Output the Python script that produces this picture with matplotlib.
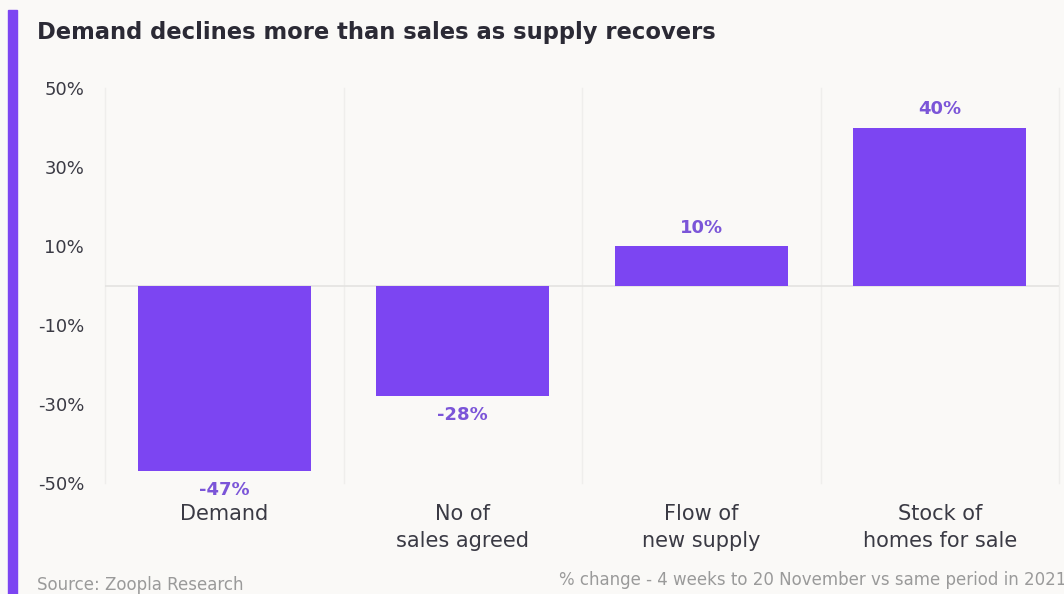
import matplotlib
matplotlib.use("Agg")
import matplotlib.pyplot as plt
from matplotlib.patches import Rectangle

categories = ["Demand", "No of\nsales agreed", "Flow of\nnew supply", "Stock of\nhomes for sale"]
values = [-47, -28, 10, 40]
yticks = [-50, -30, -10, 10, 30, 50]
ytick_labels = ["-50%", "-30%", "-10%", "10%", "30%", "50%"]
title = "Demand declines more than sales as supply recovers"
source = "Source: Zoopla Research"
note = "% change - 4 weeks to 20 November vs same period in 2021"

plt.rcParams['font.family'] = ['DejaVu Sans']

BG = "#faf9f7"
BAR = "#7c45f2"
LABEL = "#7b55d8"
TEXT = "#3a3a44"
GREY = "#9a9a9a"

fig = plt.figure(figsize=(10.64, 5.94), dpi=100, facecolor=BG)
W, H = 1064, 594
ax = fig.add_axes([105 / W, 1 - 483 / H, (1059 - 105) / W, (483 - 88) / H])
ax.set_facecolor(BG)

# left accent bar
fig.patches.append(Rectangle((8 / W, 0), 9 / W, 1 - 10 / H, transform=fig.transFigure,
                             color=BAR, zorder=0))

x = list(range(len(categories)))
ax.bar(x, values, width=0.725, color=BAR, zorder=3)
ax.set_xlim(-0.5, len(categories) - 0.5)
ax.set_ylim(-50, 50)

# separators
for b in range(len(categories) + 1):
    ax.axvline(b - 0.5, ymin=0, ymax=1, color="#efeeec", lw=1, zorder=1, clip_on=False)
ax.axhline(0, color="#e4e3e1", lw=1.2, zorder=2)

for xi, v in zip(x, values):
    if v < 0:
        ax.text(xi, v - 2.6, f"{v}%", ha="center", va="top", color=LABEL,
                fontsize=13, fontweight="semibold")
    else:
        ax.text(xi, v + 2.4, f"{v}%", ha="center", va="bottom", color=LABEL,
                fontsize=13, fontweight="semibold")

ax.set_yticks(yticks)
ax.set_yticklabels(ytick_labels, fontsize=13, color=TEXT)
ax.set_xticks(x)
ax.set_xticklabels(categories, fontsize=15, color=TEXT, linespacing=1.45, va="top")
ax.tick_params(axis="both", length=0)
ax.tick_params(axis="y", pad=15)
ax.tick_params(axis="x", pad=15)
for lbl in ax.get_yticklabels():
    lbl.set_horizontalalignment("right")
for s in ax.spines.values():
    s.set_visible(False)

fig.text(37 / W, 1 - 33 / H, title, fontsize=16.3, fontweight="bold", color="#2b2a35",
         va="center", ha="left")
fig.text(37 / W, 1 - 585 / H, source, fontsize=12, color=GREY, va="center", ha="left")
fig.text(1066 / W, 1 - 580 / H, note, fontsize=12, color=GREY, va="center", ha="right")

fig.savefig("out.png", dpi=100, facecolor=BG)
